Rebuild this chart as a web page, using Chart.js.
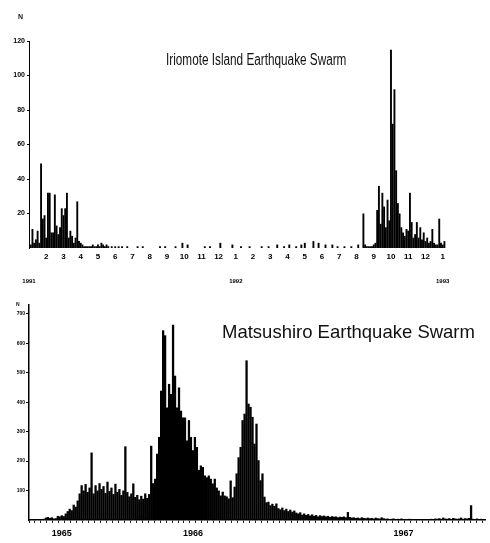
<!DOCTYPE html>
<html lang="en">
<head>
<meta charset="UTF-8">
<title>Earthquake Swarms</title>
<script src="https://cdn.jsdelivr.net/npm/chart.js@4"></script>
<style>
  body {margin:0;background:#fff;font-family:'Liberation Sans',Arial,sans-serif;}
  .wrap {position:relative;width:490px;height:543px;overflow:hidden;}
  .box {position:absolute;left:0;width:490px;}
  #topBox {top:0;height:290px;}
  #botBox {top:290px;height:253px;}
  .lbl {position:absolute;color:#111;white-space:nowrap;line-height:1;}
  .t1 {left:166px;top:52px;font-size:16px;transform:scaleX(0.735);transform-origin:left top;}
  .t2 {left:222px;top:323px;font-size:18.5px;}
  .n1 {left:18px;top:13px;font-size:7px;font-weight:bold;}
  .n2 {left:16px;top:302px;font-size:5px;font-weight:bold;}
</style>
</head>
<body>
<div class="wrap">
  <div class="box" id="topBox"><canvas id="iriChart" width="490" height="290"></canvas></div>
  <div class="box" id="botBox"><canvas id="matsuChart" width="490" height="253"></canvas></div>
  <div class="lbl n1">N</div>
  <div class="lbl t1">Iriomote Island Earthquake Swarm</div>
  <div class="lbl n2">N</div>
  <div class="lbl t2">Matsushiro Earthquake Swarm</div>
</div>

<script>
// Iriomote: time in months from Jan 1991, count per interval
const iriT = [
  0.1,0.2,0.3,0.4,0.5,0.6,0.7,0.8,0.9,1.0,1.1,1.2,1.3,1.4,1.5,1.6,1.7,1.8,1.9,2.0,
  2.1,2.2,2.3,2.4,2.5,2.6,2.7,2.8,2.9,3.0,3.1,3.2,3.3,3.4,
  3.5,3.6,3.7,3.8,3.9,4.0,4.1,4.2,4.3,4.4,4.5,4.6,4.8,5.0,5.2,5.4,5.7,6.3,6.6,7.6,7.9,
  8.5,8.9,9.2,10.2,10.5,11.1,11.8,12.3,12.8,13.5,13.9,14.4,14.8,15.1,15.5,15.8,16.0,
  16.5,16.8,17.2,17.6,17.9,18.3,18.7,19.1,19.4,19.5,19.6,19.7,19.8,19.9,20.0,
  20.1,20.2,20.3,20.4,20.5,20.6,20.7,20.8,20.9,21.0,21.1,21.2,21.3,21.4,21.5,21.6,
  21.7,21.8,21.9,22.0,22.1,22.2,22.3,22.4,22.5,22.6,22.7,22.8,22.9,23.0,23.1,23.2,
  23.3,23.4,23.5,23.6,23.7,23.8,23.9,24.0,24.1
];
const iriN = [
  2,11,3,5,10,3,49,17,19,6,32,32,9,9,31,13,8,12,23,19,
  23,32,6,10,7,3,6,27,4,3,2,1,1,1,
  1,1,2,1,1,2,1,3,2,1,2,1,1,1,1,1,1,1,1,1,1,
  1,3,2,1,1,3,2,1,1,1,1,2,1,2,1,2,3,
  4,3,2,2,1,1,1,2,20,2,1,1,1,1,2,
  3,22,36,14,32,24,12,28,16,115,72,92,45,26,20,12,
  9,7,11,10,32,15,6,8,15,6,12,5,9,4,6,3,
  4,11,3,2,2,17,3,2,4
];
const iriMonthTicks = [1,2,3,4,5,6,7,8,9,10,11,12,13,14,15,16,17,18,19,20,21,22,23,24];
const iriMonthLabels = ['2','3','4','5','6','7','8','9','10','11','12','1',
                        '2','3','4','5','6','7','8','9','10','11','12','1'];
const iriYearTicks = [0, 12, 24];
const iriYearLabels = ['1991', '1992', '1993'];
const iriYTicks = [20, 40, 60, 80, 100, 120];

// Matsushiro: daily-ish counts, one value per bin
const matsuN = [
  2,2,3,2,3,2,3,4,8,10,7,9,5,6,14,12,16,13,22,30,
  38,33,52,45,66,90,118,100,122,95,110,229,90,118,100,125,105,115,92,130,
  98,110,88,123,95,105,85,100,250,95,80,90,124,78,85,70,82,72,90,75,
  88,252,125,140,225,282,439,644,627,382,462,428,663,490,382,450,371,348,348,270,
  339,282,237,282,248,170,185,180,151,145,151,140,124,140,110,100,83,96,83,80,
  73,134,77,113,158,213,248,339,361,542,395,384,350,259,327,203,135,158,79,60,
  62,50,55,48,56,40,36,42,33,38,30,35,28,32,25,22,26,18,22,17,
  20,15,19,14,17,12,16,13,15,12,14,10,13,11,12,9,11,10,12,9,
  27,10,8,9,7,8,6,9,7,6,8,6,7,5,8,6,5,9,6,4,
  5,3,4,5,3,4,3,5,3,2,3,4,2,3,2,3,2,2,3,2,
  3,2,4,3,5,4,6,4,8,5,4,6,3,7,5,4,5,8,4,6,
  5,7,50,4,3,5,3,4,2,3
];
const matsuYearBins = [16, 82, 188];
const matsuYearLabels = ['1965', '1966', '1967'];
const matsuYTicks = [100, 200, 300, 400, 500, 600, 700];

const narrow = "'Liberation Sans Narrow','Liberation Sans',Arial,sans-serif";
const ink = '#000';

new Chart(document.getElementById('iriChart'), {
  type: 'bar',
  data: {
    datasets: [{
      data: iriT.map((t, i) => ({x: t, y: iriN[i]})),
      backgroundColor: ink,
      borderWidth: 0,
      barPercentage: 1.1,
      categoryPercentage: 1
    }]
  },
  options: {
    responsive: false,
    animation: false,
    layout: {padding: {top: 41, right: 43, left: 0, bottom: 0}},
    plugins: {legend: {display: false}, tooltip: {enabled: false}},
    scales: {
      x: {
        type: 'linear', min: 0, max: 24.25, offset: false,
        grid: {display: false, drawTicks: false, tickLength: 0},
        border: {display: false},
        afterBuildTicks: s => { s.ticks = iriMonthTicks.map(v => ({value: v})); },
        afterFit: s => { s.height = 20; },
        ticks: {
          autoSkip: false, maxRotation: 0, padding: 4, color: ink,
          font: {family: narrow, size: 8, weight: 'bold'},
          callback: v => iriMonthLabels[iriMonthTicks.indexOf(v)]
        }
      },
      x2: {
        type: 'linear', position: 'bottom', min: 0, max: 24.25, offset: false,
        grid: {display: false, drawTicks: false, tickLength: 0},
        border: {display: false},
        afterBuildTicks: s => { s.ticks = iriYearTicks.map(v => ({value: v})); },
        afterFit: s => { s.height = 22; },
        ticks: {
          autoSkip: false, maxRotation: 0, padding: 10, color: ink,
          font: {family: narrow, size: 6, weight: 'bold'},
          callback: v => iriYearLabels[iriYearTicks.indexOf(v)]
        }
      },
      y: {
        min: 0, max: 120,
        grid: {display: true, drawOnChartArea: false, tickLength: 2, color: ink},
        border: {display: true, color: ink, width: 1},
        afterBuildTicks: s => { s.ticks = iriYTicks.map(v => ({value: v})); },
        afterFit: s => { s.width = 29; },
        ticks: {padding: 2, color: ink, font: {family: narrow, size: 7, weight: 'bold'}}
      }
    }
  }
});

new Chart(document.getElementById('matsuChart'), {
  type: 'bar',
  data: {
    labels: matsuN.map((_, i) => i),
    datasets: [{
      data: matsuN,
      backgroundColor: ink,
      borderWidth: 0,
      barPercentage: 1.15,
      categoryPercentage: 1
    }]
  },
  options: {
    responsive: false,
    animation: false,
    layout: {padding: {top: 15, right: 2, left: 0, bottom: 0}},
    plugins: {legend: {display: false}, tooltip: {enabled: false}},
    scales: {
      x: {
        grid: {
          display: true, drawOnChartArea: false, tickLength: 3,
          color: c => (c.index % 3 === 0 ? '#222' : 'rgba(0,0,0,0)')
        },
        border: {display: true, color: ink, width: 1.5},
        afterFit: s => { s.height = 23; },
        ticks: {
          autoSkip: false, maxRotation: 0, minRotation: 0, padding: 5, color: ink,
          font: {family: narrow, size: 9, weight: 'bold'},
          callback: (v, i) => {
            const k = matsuYearBins.indexOf(i);
            return k < 0 ? '' : matsuYearLabels[k];
          }
        }
      },
      y: {
        min: 0, max: 730,
        grid: {display: true, drawOnChartArea: false, tickLength: 3, color: ink},
        border: {display: true, color: ink, width: 1.5},
        afterBuildTicks: s => { s.ticks = matsuYTicks.map(v => ({value: v})); },
        afterFit: s => { s.width = 29; },
        ticks: {padding: 1, color: ink, font: {family: narrow, size: 5, weight: 'bold'}}
      }
    }
  }
});
</script>
</body>
</html>
